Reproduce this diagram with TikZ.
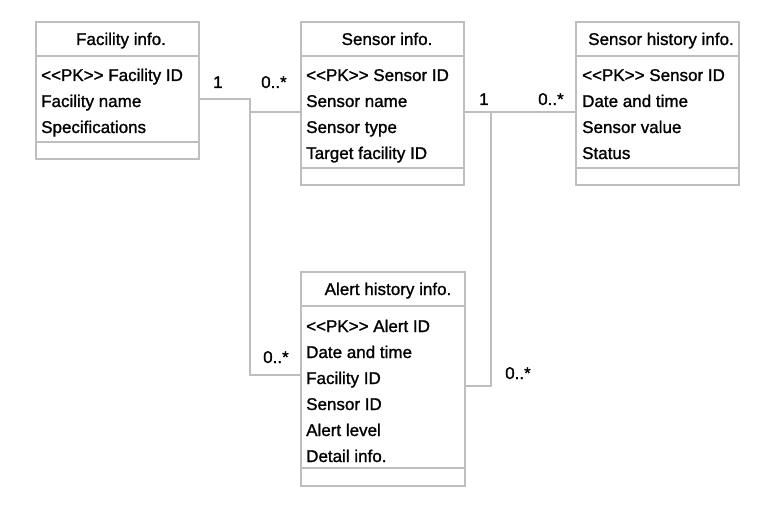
\documentclass[tikz,border=0pt]{standalone}
\usepackage{fontspec}
\setmainfont[Ligatures=TeXOff, FakeBold=1.2]{Liberation Sans}
\definecolor{umlgray}{HTML}{BEBEBE}
\tikzset{
  box/.style={draw=umlgray, line width=2.2pt, inner sep=0pt, fill=white},
  sep/.style={draw=umlgray, line width=2.2pt},
  link/.style={draw=umlgray, line width=2pt},
  attr/.style={anchor=base west, inner sep=0pt, font=\fontsize{17}{20}\selectfont},
  ttl/.style={anchor=base, inner sep=0pt, font=\fontsize{17}{20}\selectfont},
  mult/.style={anchor=base west, inner sep=0pt, font=\fontsize{17}{20}\selectfont}
}
\begin{document}
\begin{tikzpicture}[x=1pt, y=-1pt]
  \useasboundingbox (0,0) rectangle (782,513);

  % connectors
  \coordinate (j1) at (250,99);
  \coordinate (j2) at (250,112);
  \coordinate (j3) at (250,375);
  \coordinate (j4) at (491,112);
  \coordinate (j5) at (491,386);

  % boxes
  \node[box, minimum width=163pt, minimum height=137pt] (fac) at (117.5,90.5) {};
  \node[box, minimum width=163pt, minimum height=163pt] (sen) at (382.5,103.5) {};
  \node[box, minimum width=163pt, minimum height=163pt] (hist) at (657.5,103.5) {};
  \node[box, minimum width=164pt, minimum height=214pt] (alert) at (383,379) {};

  \draw[link] (fac.east |- j1) -- (j1) -- (j3) -- (alert.west |- j3);
  \draw[link] (j2) -- (sen.west |- j2);
  \draw[link] (sen.east |- j4) -- (hist.west |- j4);
  \draw[link] (j4) -- (j5) -- (alert.east |- j5);

  % compartments
  \draw[sep] (36,56) -- (199,56);
  \draw[sep] (36,142) -- (199,142);
  \draw[sep] (301,56) -- (464,56);
  \draw[sep] (301,168) -- (464,168);
  \draw[sep] (576,56) -- (739,56);
  \draw[sep] (576,168) -- (739,168);
  \draw[sep] (301,306) -- (465,306);
  \draw[sep] (301,468) -- (465,468);

  % Facility info.
  \node[ttl] (facT) at (121,45) {Facility info.};
  \node[attr] (fac1) at (41,81) {<<PK>> Facility ID};
  \node[attr] (fac2) at (41,107) {Facility name};
  \node[attr] (fac3) at (41,133) {Specifications};

  % Sensor info.
  \node[ttl] (senT) at (387,45) {Sensor info.};
  \node[attr] (sen1) at (306,81) {<<PK>> Sensor ID};
  \node[attr] (sen2) at (306,107) {Sensor name};
  \node[attr] (sen3) at (306,133) {Sensor type};
  \node[attr] (sen4) at (306,159) {Target facility ID};

  % Sensor history info.
  \node[ttl] (histT) at (661,45) {Sensor history info.};
  \node[attr] (hist1) at (582,81) {<<PK>> Sensor ID};
  \node[attr] (hist2) at (582,107) {Date and time};
  \node[attr] (hist3) at (582,133) {Sensor value};
  \node[attr] (hist4) at (582,159) {Status};

  % Alert history info.
  \node[ttl] (alertT) at (388,295) {Alert history info.};
  \node[attr] (alert1) at (306,332) {<<PK>> Alert ID};
  \node[attr] (alert2) at (306,358) {Date and time};
  \node[attr] (alert3) at (306,384) {Facility ID};
  \node[attr] (alert4) at (306,410) {Sensor ID};
  \node[attr] (alert5) at (306,436) {Alert level};
  \node[attr] (alert6) at (306,462) {Detail info.};

  % multiplicities
  \node[mult] (m1) at (213,88) {1};
  \node[mult] (m2) at (261,88) {0..*};
  \node[mult] (m3) at (479,105) {1};
  \node[mult] (m4) at (538,105) {0..*};
  \node[mult] (m5) at (263,363) {0..*};
  \node[mult] (m6) at (505,379) {0..*};
\end{tikzpicture}
\end{document}
